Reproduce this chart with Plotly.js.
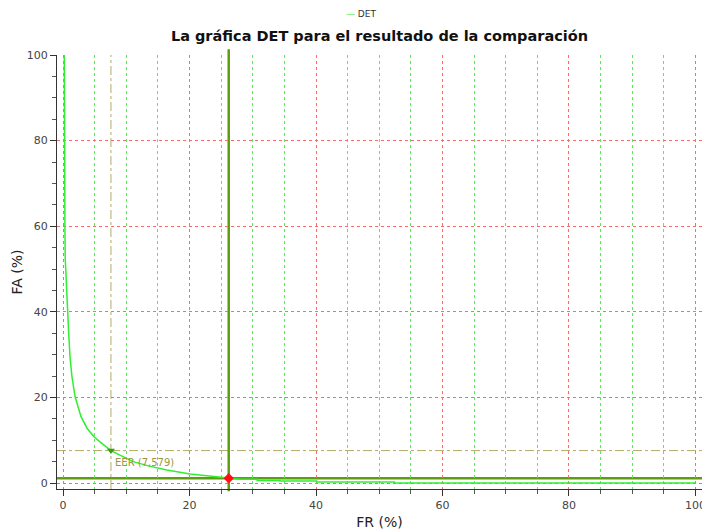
<!DOCTYPE html>
<html>
<head>
<meta charset="utf-8">
<script src="https://cdn.plot.ly/plotly-3.0.1.min.js"></script>
<style>html,body{margin:0;padding:0;background:#fff;}#chart{width:702px;height:530px;}</style>
</head>
<body>
<div id="chart"></div>
<script>
// DET curve: false rejection (FR %) vs false acceptance (FA %)
const detFR = [0.2, 0.2, 0.25, 0.3, 0.35, 0.5, 0.74, 0.9, 1.1, 1.4, 1.9, 2.4, 2.85, 3.8, 4.9, 5.85, 7.1, 7.579, 9.0, 11.1, 13.5, 16.4, 20.1, 23.7, 25.9, 28.0, 30.7, 30.7, 34.3, 34.3, 40.1, 40.1, 52.4, 52.4, 100];
const detFA = [100, 90, 70, 60, 52.5, 47, 40, 35, 29.6, 25, 20.2, 17.5, 15.5, 12.8, 10.8, 9.6, 8.2, 7.579, 6.5, 5.0, 4.0, 3.06, 2.1, 1.5, 1.1, 0.85, 0.85, 0.6, 0.6, 0.45, 0.45, 0.25, 0.25, 0.0, 0.0];
const eerValue = 7.579;
const eerLabel = 'EER (7,579)';
const opFR = 26.2;   // selected operating point
const opFA = 1.1;
const xTicks = [0, 20, 40, 60, 80, 100];
const yTicks = [0, 20, 40, 60, 80, 100];

const font = 'DejaVu Sans, Verdana, sans-serif';
const olive = '#5e9c10';
const eerColor = '#b3ab66';

const traces = [
  {
    x: detFR, y: detFA, type: 'scatter', mode: 'lines', name: 'DET',
    line: {color: '#2ef02e', width: 1.5}, showlegend: false, cliponaxis: true
  },
  {
    x: [eerValue], y: [eerValue], type: 'scatter', mode: 'markers', showlegend: false,
    marker: {symbol: 'triangle-down', size: 7, color: '#3f9a1a'}
  },
  {
    x: [opFR], y: [opFA], type: 'scatter', mode: 'markers', showlegend: false,
    marker: {symbol: 'diamond', size: 8, color: '#ff1010'}, cliponaxis: false
  }
];

const layout = {
  width: 702, height: 530,
  margin: {l: 57, r: 0, t: 55, b: 41},
  paper_bgcolor: '#fff', plot_bgcolor: '#fff',
  showlegend: false,
  title: {
    text: 'La gráfica DET para el resultado de la comparación',
    font: {family: font, size: 14.5, color: '#111', weight: 'bold'},
    x: 0.5, xref: 'paper', xanchor: 'center',
    y: 1 - 36 / 530, yref: 'container', yanchor: 'middle'
  },
  xaxis: {
    range: [-0.95, 101.03], tickvals: xTicks, ticktext: xTicks.map(String),
    showline: true, linecolor: '#333', linewidth: 1,
    ticks: 'outside', ticklen: 6, tickcolor: '#333',
    tickfont: {family: font, size: 11, color: '#444'},
    ticklabeloverflow: 'allow',
    showgrid: true, gridcolor: '#ff6a6a', griddash: 'dot', gridwidth: 1,
    zeroline: false,
    minor: {dtick: 5, tick0: 0, ticks: 'outside', ticklen: 4, tickcolor: '#555',
            showgrid: true, gridcolor: '#5ee85e', griddash: 'dot', gridwidth: 1},
    title: {text: 'FR (%)', font: {family: font, size: 14, color: '#222'}, standoff: 6}
  },
  yaxis: {
    range: [-1.4, 100], tickvals: yTicks, ticktext: yTicks.map(String),
    showline: true, linecolor: '#333', linewidth: 1,
    ticks: 'outside', ticklen: 6, tickcolor: '#333',
    tickfont: {family: font, size: 11, color: '#444'},
    ticklabeloverflow: 'allow',
    showgrid: true, gridcolor: '#ff6a6a', griddash: 'dot', gridwidth: 1,
    zeroline: false,
    minor: {dtick: 5, tick0: 0, ticks: 'outside', ticklen: 4, tickcolor: '#555', showgrid: false},
    title: {text: 'FA (%)', font: {family: font, size: 14, color: '#222'}, standoff: 0}
  },
  shapes: [
    {type: 'line', xref: 'x', yref: 'paper', x0: eerValue, x1: eerValue, y0: 0, y1: 1,
     line: {color: eerColor, width: 1, dash: 'dashdot'}, layer: 'between'},
    {type: 'line', xref: 'paper', yref: 'y', x0: 0, x1: 1, y0: eerValue, y1: eerValue,
     line: {color: eerColor, width: 1, dash: 'dashdot'}, layer: 'between'},
    {type: 'line', xref: 'paper', yref: 'y', x0: 0, x1: 1, y0: opFA, y1: opFA,
     line: {color: olive, width: 2.5}, layer: 'between'},
    {type: 'line', xref: 'x', yref: 'paper', x0: opFR, x1: opFR, y0: -0.005, y1: 1.013,
     line: {color: olive, width: 2.5}, layer: 'between'}
  ],
  annotations: [
    {x: eerValue, y: eerValue, xref: 'x', yref: 'y', text: eerLabel, showarrow: false,
     xanchor: 'left', yanchor: 'top', xshift: 2, yshift: -4,
     font: {family: font, size: 10, color: '#9c9640'}},
    {x: (344 - 57) / 645, y: 1 + (55 - 14) / 434, xref: 'paper', yref: 'paper', showarrow: false,
     text: '<span style="color:#2ef02e">—</span> DET',
     font: {family: font, size: 9, color: '#333'}, xanchor: 'left', yanchor: 'middle'}
  ]
};

Plotly.newPlot('chart', traces, layout, {staticPlot: true, displayModeBar: false});
</script>
</body>
</html>
